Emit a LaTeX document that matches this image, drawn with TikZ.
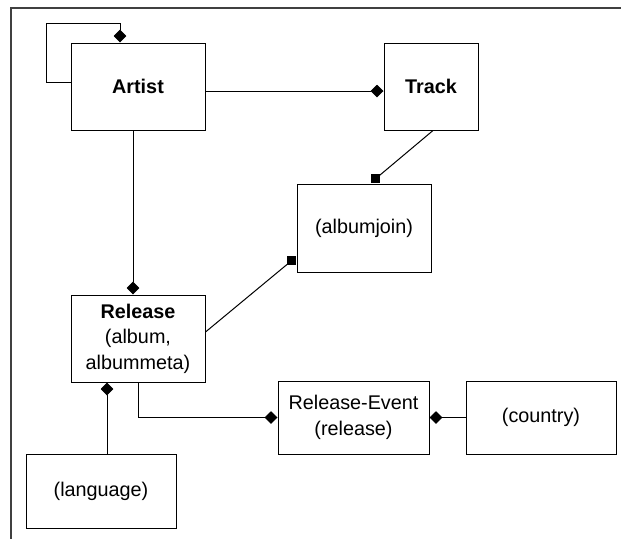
\documentclass[tikz,border=0pt]{standalone}
\usepackage{fontspec}
\setmainfont{Liberation Sans}
\usetikzlibrary{arrows.meta}
\tikzset{
  box/.style={draw=black, line width=1pt, inner sep=0pt, align=center,
    font=\fontsize{19.8}{25.5}\selectfont},
  conn/.style={draw=black, line width=1pt},
  dia/.style={conn, -{Diamond[length=13pt,width=12.5pt]}},
  sqbox/.style={fill=black, draw=none, minimum size=9pt, inner sep=0pt},
  frame/.style={draw=black!75, line width=1.4pt}
}
\begin{document}
\begin{tikzpicture}[x=1pt,y=-1pt]
\useasboundingbox (0,0) rectangle (621,539);
\draw[frame] (621,8) -- (11,8) -- (11,539);

\node[box, minimum width=134pt, minimum height=87pt] (artist) at (138,86.5) {\textbf{Artist}};
\node[box, minimum width=94pt, minimum height=87pt] (track) at (431,86.5) {\textbf{Track}};
\node[box, minimum width=134pt, minimum height=88pt] (albumjoin) at (364,228) {(albumjoin)};
\node[box, minimum width=134pt, minimum height=87pt] (release) at (138,338.5) {\textbf{Release}\\(album,\\albummeta)};
\node[box, minimum width=150pt, minimum height=74pt] (language) at (101,491) {(language)};
\node[box, minimum width=151pt, minimum height=73pt] (relevent) at (353.5,417.5) {Release-Event\\(release)};
\node[box, minimum width=150pt, minimum height=73pt] (country) at (541,417.5) {(country)};

\coordinate (l0) at (46,82);
\coordinate (l1) at (120,23);
\coordinate (y91) at (0,91);
\coordinate (x133) at (133,0);
\coordinate (x433) at (433,0);
\coordinate (x375) at (375.5,0);
\coordinate (y332) at (0,332);
\coordinate (y260) at (0,260.5);
\coordinate (x107) at (107,0);

\node[sqbox, anchor=south] (sqtop) at (x375 |- albumjoin.north) {};
\node[sqbox, anchor=east] (sqleft) at (y260 -| albumjoin.west) {};

\draw[dia] (l0 -| artist.west) -- (l0) |- (l1) -- (l1 |- artist.north);
\draw[dia] (y91 -| artist.east) -- (y91 -| track.west);
\draw[dia] (x133 |- artist.south) -- (x133 |- release.north);
\draw[conn] (x433 |- track.south) -- (sqtop.center);
\draw[conn] (y332 -| release.east) -- (sqleft.center);
\draw[dia] (x107 |- language.north) -- (x107 |- release.south);
\draw[dia] (release.south) |- (relevent.west);
\draw[dia] (country.west) -- (relevent.east);
\node[sqbox] at (sqtop) {};
\node[sqbox] at (sqleft) {};
\end{tikzpicture}
\end{document}
